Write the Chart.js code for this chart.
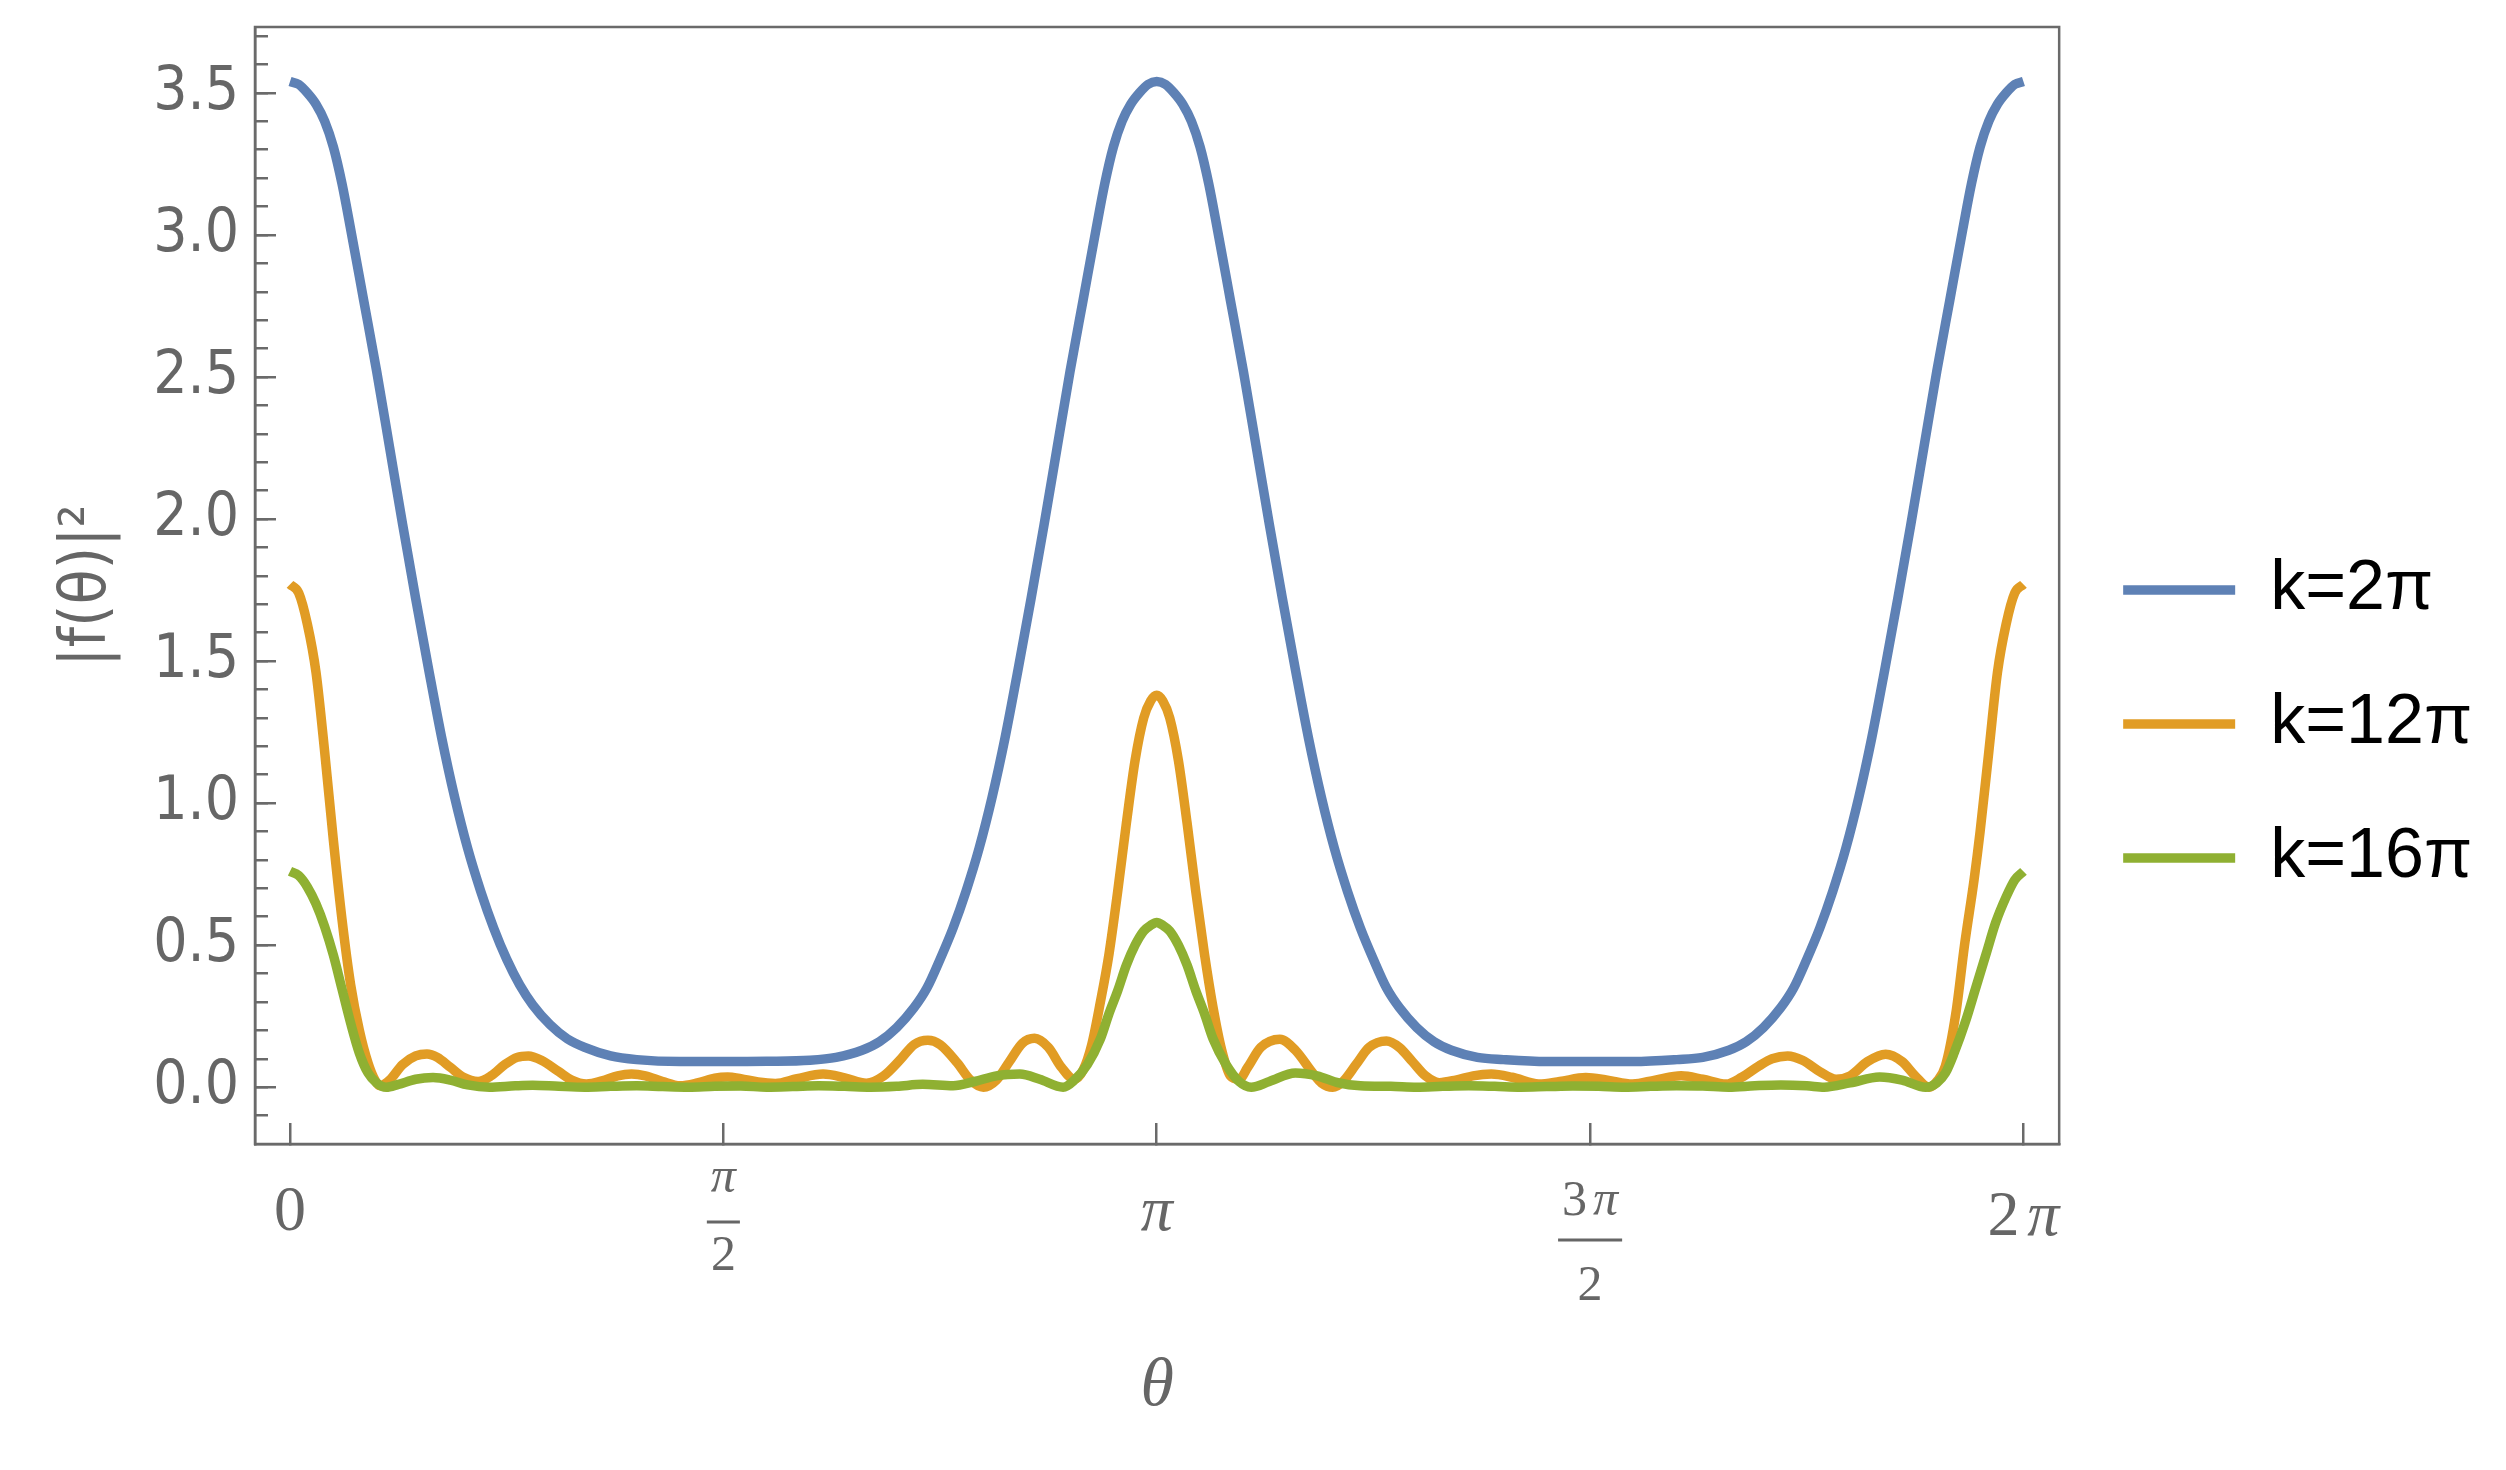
<!DOCTYPE html>
<html>
<head>
<meta charset="utf-8">
<script src="https://cdn.jsdelivr.net/npm/chart.js@4.4.1/dist/chart.umd.min.js"></script>
<style>
    html, body { margin: 0; padding: 0; background: #ffffff; }
    #grafico { display: block; }
</style>
</head>
<body>
<canvas id="grafico" width="2506" height="1470"></canvas>
<script>

/*
 * Dados (theta em unidades de pi)
 * */

var serieLabels = ['k=2\u03c0', 'k=12\u03c0', 'k=16\u03c0'];

var blueTheta = [0, 0.01, 0.02, 0.03, 0.04, 0.05, 0.06, 0.07, 0.085, 0.10, 0.115, 0.13, 0.145, 0.16, 0.175, 0.19, 0.205, 0.22, 0.235, 0.25, 0.265, 0.28, 0.30, 0.32, 0.34, 0.37, 0.40, 0.45, 0.50,
    0.55, 0.60, 0.63, 0.66, 0.68, 0.70, 0.72, 0.735, 0.75, 0.765, 0.78, 0.795, 0.81, 0.825, 0.84, 0.855, 0.87, 0.885, 0.90, 0.915, 0.93, 0.94, 0.95, 0.96, 0.97, 0.98, 0.99,
    1.0, 1.01, 1.02, 1.03, 1.04, 1.05, 1.06, 1.07, 1.085, 1.10, 1.115, 1.13, 1.145, 1.16, 1.175, 1.19, 1.205, 1.22, 1.235, 1.25, 1.265, 1.28, 1.30, 1.32, 1.34, 1.37, 1.40, 1.45, 1.50,
    1.55, 1.60, 1.63, 1.66, 1.68, 1.70, 1.72, 1.735, 1.75, 1.765, 1.78, 1.795, 1.81, 1.825, 1.84, 1.855, 1.87, 1.885, 1.90, 1.915, 1.93, 1.94, 1.95, 1.96, 1.97, 1.98, 1.99, 2.0];
var blueVal = [3.54, 3.53, 3.50, 3.46, 3.40, 3.31, 3.18, 3.02, 2.77, 2.52, 2.25, 1.98, 1.72, 1.47, 1.23, 1.02, 0.84, 0.69, 0.56, 0.45, 0.36, 0.29, 0.22, 0.17, 0.14, 0.11, 0.097, 0.09, 0.09,
    0.091, 0.095, 0.105, 0.13, 0.16, 0.21, 0.28, 0.35, 0.45, 0.56, 0.69, 0.84, 1.02, 1.23, 1.47, 1.72, 1.98, 2.25, 2.52, 2.77, 3.02, 3.18, 3.31, 3.40, 3.46, 3.50, 3.53,
    3.54, 3.53, 3.50, 3.46, 3.40, 3.31, 3.18, 3.02, 2.77, 2.52, 2.25, 1.98, 1.72, 1.47, 1.23, 1.02, 0.84, 0.69, 0.56, 0.45, 0.35, 0.28, 0.21, 0.16, 0.13, 0.105, 0.097, 0.09, 0.09,
    0.09, 0.097, 0.105, 0.13, 0.16, 0.21, 0.28, 0.35, 0.45, 0.56, 0.69, 0.84, 1.02, 1.23, 1.47, 1.72, 1.98, 2.25, 2.52, 2.77, 3.02, 3.18, 3.31, 3.40, 3.46, 3.50, 3.53, 3.54];

var orangeTheta = [0, 0.01, 0.02, 0.03, 0.04, 0.05, 0.06, 0.07, 0.08, 0.09, 0.098, 0.104, 0.115, 0.13, 0.145, 0.158, 0.17, 0.185, 0.20, 0.217, 0.232, 0.248, 0.262, 0.275, 0.29, 0.31, 0.325, 0.342, 0.36, 0.378, 0.394, 0.41, 0.43, 0.45, 0.47, 0.49, 0.505, 0.52, 0.54, 0.56, 0.585, 0.615, 0.64, 0.665, 0.685, 0.705, 0.72, 0.736, 0.75, 0.77, 0.785, 0.80, 0.815, 0.83, 0.845, 0.859, 0.875, 0.89, 0.905, 0.915, 0.925, 0.935, 0.945, 0.955, 0.965, 0.975, 0.985, 0.993,
    1.0, 1.007, 1.015, 1.025, 1.035, 1.045, 1.055, 1.065, 1.075, 1.085, 1.095, 1.105, 1.12, 1.142, 1.16, 1.18, 1.19, 1.203, 1.215, 1.23, 1.245, 1.265, 1.28, 1.295, 1.31, 1.326, 1.345, 1.365, 1.386, 1.41, 1.441, 1.465, 1.495, 1.52, 1.549, 1.575, 1.605, 1.63, 1.657, 1.675, 1.695, 1.71, 1.728, 1.745, 1.765, 1.784, 1.80, 1.82, 1.841, 1.86, 1.875, 1.891, 1.90, 1.91, 1.922, 1.932, 1.943, 1.95, 1.96, 1.97, 1.98, 1.99, 2.0];
var orangeVal = [1.77, 1.74, 1.63, 1.46, 1.18, 0.87, 0.59, 0.36, 0.20, 0.085, 0.025, 0.005, 0.025, 0.08, 0.11, 0.117, 0.105, 0.07, 0.035, 0.02, 0.04, 0.08, 0.105, 0.11, 0.095, 0.055, 0.025, 0.011, 0.022, 0.04, 0.046, 0.04, 0.02, 0.005, 0.015, 0.032, 0.036, 0.03, 0.018, 0.013, 0.03, 0.046, 0.033, 0.014, 0.04, 0.10, 0.15, 0.165, 0.15, 0.085, 0.025, 0.0, 0.025, 0.09, 0.155, 0.172, 0.14, 0.07, 0.028, 0.06, 0.15, 0.30, 0.47, 0.69, 0.93, 1.15, 1.30, 1.36,
    1.38, 1.36, 1.30, 1.15, 0.93, 0.69, 0.47, 0.28, 0.13, 0.04, 0.028, 0.07, 0.14, 0.169, 0.13, 0.05, 0.015, 0.0, 0.02, 0.08, 0.14, 0.163, 0.14, 0.09, 0.04, 0.016, 0.025, 0.04, 0.046, 0.035, 0.011, 0.02, 0.034, 0.025, 0.011, 0.025, 0.040, 0.028, 0.011, 0.035, 0.075, 0.10, 0.110, 0.095, 0.055, 0.028, 0.04, 0.09, 0.116, 0.09, 0.04, 0.0, 0.02, 0.075, 0.26, 0.50, 0.73, 0.90, 1.18, 1.46, 1.63, 1.74, 1.77];

var greenTheta = [0, 0.01, 0.02, 0.03, 0.04, 0.05, 0.06, 0.07, 0.08, 0.09, 0.10, 0.111, 0.125, 0.145, 0.165, 0.185, 0.205, 0.23, 0.26, 0.28, 0.31, 0.34, 0.37, 0.40, 0.43, 0.46, 0.49, 0.52, 0.55, 0.58, 0.61, 0.64, 0.67, 0.70, 0.73, 0.765, 0.79, 0.815, 0.842, 0.865, 0.892, 0.905, 0.92, 0.935, 0.945, 0.955, 0.965, 0.975, 0.985, 0.993,
    1.0, 1.007, 1.015, 1.025, 1.035, 1.045, 1.055, 1.065, 1.08, 1.095, 1.109, 1.13, 1.16, 1.185, 1.21, 1.235, 1.27, 1.30, 1.33, 1.36, 1.39, 1.42, 1.45, 1.48, 1.51, 1.54, 1.57, 1.60, 1.63, 1.66, 1.69, 1.72, 1.75, 1.77, 1.80, 1.834, 1.86, 1.887, 1.90, 1.91, 1.92, 1.933, 1.945, 1.957, 1.968, 1.98, 1.99, 2.0];
var greenVal = [0.76, 0.745, 0.705, 0.645, 0.565, 0.465, 0.345, 0.225, 0.12, 0.05, 0.015, 0.0, 0.01, 0.028, 0.034, 0.025, 0.008, 0.0, 0.005, 0.007, 0.003, 0.0, 0.003, 0.005, 0.002, 0.0, 0.003, 0.004, 0.0, 0.002, 0.005, 0.003, 0.0, 0.003, 0.01, 0.005, 0.02, 0.04, 0.046, 0.028, 0.0, 0.025, 0.08, 0.17, 0.26, 0.34, 0.43, 0.50, 0.55, 0.57,
    0.58, 0.57, 0.55, 0.50, 0.43, 0.34, 0.26, 0.17, 0.08, 0.02, 0.0, 0.02, 0.05, 0.04, 0.015, 0.005, 0.003, 0.0, 0.003, 0.005, 0.003, 0.0, 0.002, 0.004, 0.003, 0.0, 0.003, 0.005, 0.004, 0.0, 0.005, 0.008, 0.005, 0.0, 0.015, 0.036, 0.025, 0.0, 0.015, 0.05, 0.12, 0.23, 0.35, 0.47, 0.58, 0.67, 0.73, 0.76];

var xTickPos = [0, 0.5, 1, 1.5, 2];
var xTickText = ['0', '\u03c0/2', '\u03c0', '3\u03c0/2', '2\u03c0'];
var yTickVals = [0, 0.5, 1, 1.5, 2, 2.5, 3, 3.5];

var corEixo = '#6a6a6a';
var corTexto = '#666666';
var fonteNarrow = "'Liberation Sans Narrow', 'DejaVu Sans Condensed', sans-serif";
var fonteSerif = "'Liberation Serif', 'DejaVu Serif', serif";

function montaSerie(label, theta, valores, cor, ordem) {
    var pontos = [];
    for (var i = 0; i < theta.length; i++) {
        pontos.push({x: theta[i] * Math.PI, y: valores[i]});
    }
    return {
        label: label,
        data: pontos,
        borderColor: cor,
        backgroundColor: cor,
        borderWidth: 9.5,
        borderJoinStyle: 'round',
        pointRadius: 0,
        cubicInterpolationMode: 'monotone',
        fill: false,
        order: ordem
    };
}

/*
 * Escreve texto com pi em italico
 * */
function escreveMath(ctx, texto, cx, base, tam) {
    var partes = [];
    var total = 0;
    for (var i = 0; i < texto.length; i++) {
        var c = texto[i];
        var fonte = (c === '\u03c0' ? 'italic ' : '') + tam + 'px ' + fonteSerif;
        ctx.font = fonte;
        var w = ctx.measureText(c).width;
        var gap = (c === '\u03c0' && i > 0) ? tam * 0.12 : 0;
        partes.push({c: c, fonte: fonte, w: w, gap: gap});
        total += w + gap;
    }
    var x = cx - total / 2;
    ctx.textAlign = 'left';
    ctx.textBaseline = 'alphabetic';
    partes.forEach(function (p) {
        x += p.gap;
        ctx.font = p.fonte;
        ctx.fillText(p.c, x, base);
        x += p.w;
    });
    return total;
}

// posicoes verticais dos rotulos do eixo x (estilo do Mathematica)
var rotuloEstilo = [
    {base: 1230},
    {num: 1192, barra: 1222, den: 1270},
    {base: 1230},
    {num: 1215, barra: 1240, den: 1300},
    {base: 1235}
];

var rotulosX = {
    id: 'rotulosX',
    afterDraw: function (chart) {
        var ctx = chart.ctx;
        var sx = chart.scales.x;
        ctx.save();
        ctx.fillStyle = corTexto;
        ctx.strokeStyle = corTexto;
        for (var i = 0; i < xTickPos.length; i++) {
            var px = sx.getPixelForValue(xTickPos[i] * Math.PI);
            var txt = xTickText[i];
            var est = rotuloEstilo[i];
            if (txt.indexOf('/') < 0) {
                escreveMath(ctx, txt, px, est.base, 64);
            } else {
                var p = txt.split('/');
                var w = escreveMath(ctx, p[0], px, est.num, 50);
                escreveMath(ctx, p[1], px, est.den, 50);
                ctx.lineWidth = 3;
                ctx.beginPath();
                ctx.moveTo(px - w / 2 - 4, est.barra);
                ctx.lineTo(px + w / 2 + 4, est.barra);
                ctx.stroke();
            }
        }
        ctx.restore();
    }
};

var moldura = {
    id: 'moldura',
    afterDraw: function (chart) {
        var ctx = chart.ctx;
        var a = chart.chartArea;
        ctx.save();
        ctx.strokeStyle = corEixo;
        ctx.lineWidth = 2.5;
        ctx.strokeRect(a.left, a.top, a.right - a.left, a.bottom - a.top);
        ctx.restore();
    }
};

function semPadding(scale) {
    scale.paddingTop = 0;
    scale.paddingBottom = 0;
    scale.paddingLeft = 0;
    scale.paddingRight = 0;
}

function loadChart() {
    var canvas = document.getElementById('grafico');
    var ctx = canvas.getContext('2d');

    var chartData = {
        datasets: [
            montaSerie(serieLabels[0], blueTheta, blueVal, '#5e81b5', 3),
            montaSerie(serieLabels[1], orangeTheta, orangeVal, '#e19c24', 2),
            montaSerie(serieLabels[2], greenTheta, greenVal, '#8fb032', 1)
        ]
    };

    var options = {
        responsive: false,
        animation: false,
        devicePixelRatio: 1,
        layout: {padding: {top: 27, right: 35, bottom: 49, left: 0}},
        plugins: {
            tooltip: {enabled: false},
            legend: {
                position: 'right',
                labels: {
                    usePointStyle: true,
                    pointStyle: 'line',
                    pointStyleWidth: 112,
                    padding: 64,
                    color: '#000000',
                    font: {family: "'Liberation Sans', Arial, sans-serif", size: 70},
                    sort: function (a, b) { return a.datasetIndex - b.datasetIndex; }
                }
            }
        },
        scales: {
            x: {
                type: 'linear',
                min: -0.0404 * Math.PI,
                max: 2.0412 * Math.PI,
                afterBuildTicks: function (scale) {
                    scale.ticks = xTickPos.map(function (v) { return {value: v * Math.PI}; });
                },
                afterFit: function (scale) { scale.height = 277; semPadding(scale); },
                grid: {drawOnChartArea: false, tickLength: -21, color: corEixo, lineWidth: 2.5},
                border: {display: true, color: corEixo, width: 2.5},
                ticks: {display: false},
                title: {
                    display: true,
                    text: '\u03b8',
                    color: corTexto,
                    font: {family: fonteSerif, size: 68, style: 'italic', lineHeight: 1},
                    padding: {top: 0, bottom: 0}
                }
            },
            yMinor: {
                type: 'linear',
                position: 'left',
                weight: 0,
                min: -0.2,
                max: 3.732,
                afterBuildTicks: function (scale) {
                    var t = [];
                    for (var i = -1; i <= 37; i++) t.push({value: i / 10});
                    scale.ticks = t;
                },
                afterFit: function (scale) { scale.width = 0; semPadding(scale); },
                grid: {drawOnChartArea: false, tickLength: -13, color: corEixo, lineWidth: 2.5},
                border: {display: false},
                ticks: {display: false}
            },
            y: {
                type: 'linear',
                position: 'left',
                weight: 1,
                min: -0.2,
                max: 3.732,
                afterBuildTicks: function (scale) {
                    scale.ticks = yTickVals.map(function (v) { return {value: v}; });
                },
                afterFit: function (scale) { scale.width = 255; semPadding(scale); },
                grid: {drawOnChartArea: false, tickLength: -21, color: corEixo, lineWidth: 2.5},
                border: {display: true, color: corEixo, width: 2.5},
                ticks: {
                    color: corTexto,
                    padding: 37,
                    font: {family: fonteNarrow, size: 60},
                    callback: function (v) { return v.toFixed(1); }
                },
                title: {
                    display: true,
                    text: '|f(\u03b8)|\u00b2',
                    color: corTexto,
                    font: {family: fonteNarrow, size: 64, lineHeight: 1},
                    padding: {top: 56, bottom: 0}
                }
            }
        }
    };

    var chart = new Chart(ctx, {
        type: 'line',
        data: chartData,
        options: options,
        plugins: [moldura, rotulosX]
    });
    return chart;
}

loadChart();
</script>
</body>
</html>
